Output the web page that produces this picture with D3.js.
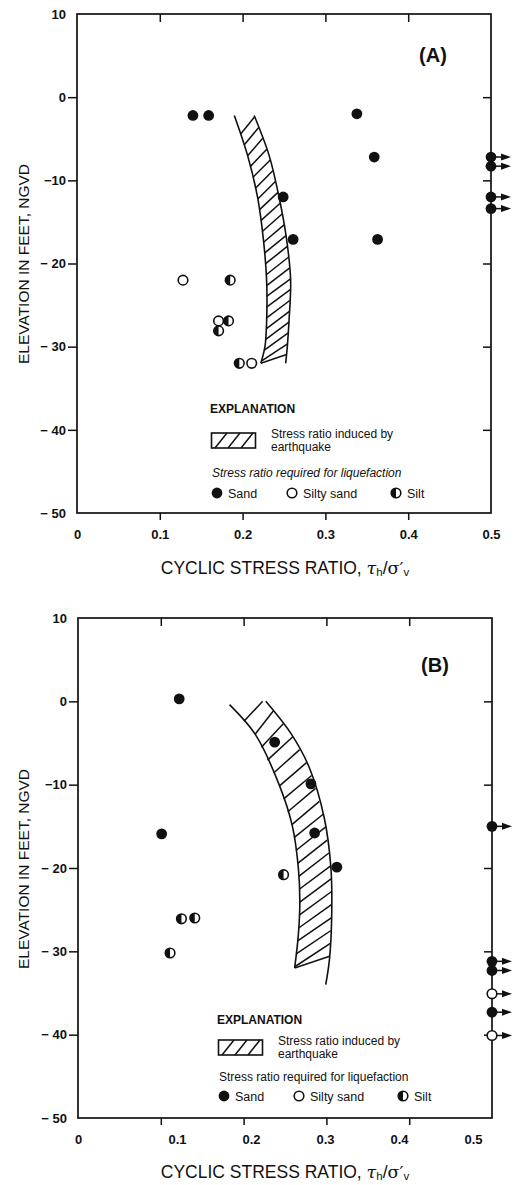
<!DOCTYPE html>
<html>
<head>
<meta charset="utf-8">
<script src="https://cdn.jsdelivr.net/npm/d3@7"></script>
<style>
	body { margin: 0; background: #fff; }
	svg { display: block; font-family: "Liberation Sans", Arial, Helvetica, sans-serif; }
</style>
</head>
<body>
<svg id="chart" width="517" height="1185"></svg>
<script>
// Panel A: cyclic stress ratio required for liquefaction [ratio, elevation ft]
const sandA = [[0.140, -2.2], [0.159, -2.2], [0.338, -2.0], [0.359, -7.2], [0.249, -12.0], [0.261, -17.1], [0.363, -17.1]];
const siltySandA = [[0.128, -22.0], [0.171, -26.9], [0.211, -32.0]];
const siltA = [[0.185, -22.0], [0.183, -26.9], [0.171, -28.1], [0.196, -32.0]];
// samples above the plotted range, sit on the right frame with an arrow
const offScaleA = [['sand', -7.2], ['sand', -8.3], ['sand', -12.0], ['sand', -13.4]];
// stress ratio induced by earthquake (band edges)
const bandALowElev = [-2.2, -7, -12, -17, -22, -27, -30, -32];
const bandALow = [0.190, 0.206, 0.218, 0.225, 0.229, 0.229, 0.227, 0.222];
const bandAHighElev = [-2.2, -7, -12, -17, -22, -27, -30, -32];
const bandAHigh = [0.214, 0.232, 0.244, 0.253, 0.258, 0.256, 0.254, 0.252];

// Panel B
const sandB = [[0.103, 0.3], [0.232, -4.9], [0.281, -9.9], [0.286, -15.8], [0.316, -19.9], [0.0845, -15.9]];
const siltySandB = [];
const siltB = [[0.244, -20.8], [0.106, -26.1], [0.124, -26.0], [0.093, -30.2]];
const offScaleB = [['sand', -15.0], ['sand', -31.2], ['sand', -32.3], ['siltySand', -35.1], ['sand', -37.3], ['siltySand', -40.1]];
const bandBLowElev = [-0.4, -4, -10, -15, -20, -24, -28, -32];
const bandBLow = [0.171, 0.206, 0.238, 0.256, 0.264, 0.266, 0.264, 0.259];
const bandBHighElev = [0, -4, -8, -14, -20, -26, -31, -34];
const bandBHigh = [0.220, 0.255, 0.279, 0.299, 0.308, 0.309, 0.306, 0.301];

// axes
const yTickValues = [10, 0, -10, -20, -30, -40, -50];
const yTickLabels = ['10', '0', '\u221210', '\u2212 20', '\u2212 30', '\u2212 40', '\u2212 50'];
const xTickValues = [0, 0.1, 0.2, 0.3, 0.4, 0.5];
const xTickLabels = ['0', '0.1', '0.2', '0.3', '0.4', '0.5'];

const ink = '#111';
var svg = d3.select('#chart');

function drawSymbol(g, kind, cx, cy) {
	var r = 4.8;
	if (kind == 'sand') {
		g.append('circle').attr('cx', cx).attr('cy', cy).attr('r', r + 0.6).attr('fill', ink);
		return;
	}
	g.append('circle').attr('cx', cx).attr('cy', cy).attr('r', r)
		.attr('fill', '#fff').attr('stroke', ink).attr('stroke-width', 1.6);
	if (kind == 'silt') {
		g.append('path')
			.attr('transform', 'translate(' + cx + ',' + cy + ')')
			.attr('d', d3.arc()({innerRadius: 0, outerRadius: r, startAngle: Math.PI, endAngle: 2 * Math.PI}))
			.attr('fill', ink);
	}
}

function drawPanel(cfg) {
	var g = svg.append('g');
	var y = d3.scaleLinear().domain([-50, 10]).range([cfg.bottom, cfg.top]);
	var x = d3.scaleLinear().domain(cfg.xDomain).range(cfg.xRange);
	var frameX = d3.scaleLinear().domain([0, 5]).range([cfg.left, cfg.right]);

	// left axis: labels, then tick marks
	g.append('g').attr('transform', 'translate(' + cfg.left + ',0)')
		.call(d3.axisLeft(y).tickValues(yTickValues).tickSize(0).tickPadding(11)
			.tickFormat((d, i) => yTickLabels[i]))
		.call(a => a.select('.domain').remove())
		.selectAll('text').attr('font-size', 13).attr('font-weight', 'bold').attr('fill', ink);
	g.append('g').attr('transform', 'translate(' + cfg.left + ',0)')
		.call(d3.axisLeft(y).tickValues([0, -10, -20, -30, -40]).tickSize(9).tickFormat(''))
		.call(a => a.select('.domain').remove())
		.selectAll('line').attr('stroke', ink).attr('stroke-width', 1.5);
	// right axis, ticks inside
	g.append('g').attr('transform', 'translate(' + cfg.right + ',0)')
		.call(d3.axisRight(y).tickValues([0, -10, -20, -30, -40]).tickSize(-8).tickFormat(''))
		.call(a => a.select('.domain').remove())
		.selectAll('line').attr('stroke', ink).attr('stroke-width', 1.5);
	// bottom axis: tick marks on the frame divisions, labels on the data scale
	g.append('g').attr('transform', 'translate(0,' + cfg.bottom + ')')
		.call(d3.axisBottom(frameX).tickValues([1, 2, 3, 4]).tickSize(7).tickFormat(''))
		.call(a => a.select('.domain').remove())
		.selectAll('line').attr('stroke', ink).attr('stroke-width', 1.5);
	g.append('g').attr('transform', 'translate(0,' + cfg.bottom + ')')
		.call(d3.axisBottom(x).tickValues(xTickValues).tickSize(0).tickPadding(17)
			.tickFormat((d, i) => xTickLabels[i]))
		.call(a => a.select('.domain').remove())
		.selectAll('text').attr('font-size', 13).attr('font-weight', 'bold').attr('fill', ink);
	// top axis, ticks inside
	g.append('g').attr('transform', 'translate(0,' + cfg.top + ')')
		.call(d3.axisTop(frameX).tickValues([1, 2, 3, 4]).tickSize(-8).tickFormat(''))
		.call(a => a.select('.domain').remove())
		.selectAll('line').attr('stroke', ink).attr('stroke-width', 1.5);

	// frame
	g.append('rect')
		.attr('x', cfg.left).attr('y', cfg.top)
		.attr('width', cfg.right - cfg.left).attr('height', cfg.bottom - cfg.top)
		.attr('fill', 'none').attr('stroke', ink).attr('stroke-width', 1.7);

	// induced stress band: two curved edges with "/" hatching between them
	var lowAt = d3.scaleLinear().domain(cfg.lowElev).range(cfg.low).clamp(true);
	var highAt = d3.scaleLinear().domain(cfg.highElev).range(cfg.high).clamp(true);
	var edge = d3.line().x(d => x(d[0])).y(d => y(d[1])).curve(d3.curveCatmullRom);
	g.append('path').attr('d', edge(cfg.low.map((v, i) => [v, cfg.lowElev[i]])))
		.attr('fill', 'none').attr('stroke', ink).attr('stroke-width', 1.6);
	g.append('path').attr('d', edge(cfg.high.map((v, i) => [v, cfg.highElev[i]])))
		.attr('fill', 'none').attr('stroke', ink).attr('stroke-width', 1.6);
	var lowTop = d3.max(cfg.lowElev), lowBottom = d3.min(cfg.lowElev);
	var highTop = d3.max(cfg.highElev);
	var clampLow = e => Math.min(Math.max(e, lowBottom), lowTop);
	var hatch = [];
	for (var e = lowBottom - cfg.rise * 0.5; e + cfg.rise * 0.5 <= highTop + 0.01; e += cfg.step)
		hatch.push(e);
	// near the top the hatch is cut short where it meets the right edge's top
	var topOf = d => Math.min(d + cfg.rise, highTop);
	var startOf = d => d + cfg.rise > highTop ? clampLow(d) : clampLow(d);
	g.selectAll(null).data(hatch).enter().append('line')
		.attr('x1', d => x(lowAt(startOf(d))))
		.attr('y1', d => y(startOf(d)))
		.attr('x2', d => d + cfg.rise > highTop
			? x(lowAt(startOf(d))) + (x(highAt(topOf(d))) - x(lowAt(startOf(d)))) * (topOf(d) - d) / cfg.rise
			: x(highAt(topOf(d))))
		.attr('y2', d => y(topOf(d)))
		.attr('stroke', ink).attr('stroke-width', 1.5);

	// observed points
	cfg.sand.forEach(d => drawSymbol(g, 'sand', x(d[0]), y(d[1])));
	cfg.siltySand.forEach(d => drawSymbol(g, 'siltySand', x(d[0]), y(d[1])));
	cfg.silt.forEach(d => drawSymbol(g, 'silt', x(d[0]), y(d[1])));
	cfg.offScale.forEach(d => {
		var cy = y(d[1]);
		g.append('line').attr('x1', cfg.right).attr('x2', cfg.right + 12).attr('y1', cy).attr('y2', cy)
			.attr('stroke', ink).attr('stroke-width', 1.5);
		g.append('path')
			.attr('d', 'M' + (cfg.right + 10) + ',' + (cy - 3.5) + 'L' + (cfg.right + 20) + ',' + cy + 'L' + (cfg.right + 10) + ',' + (cy + 3.5) + 'Z')
			.attr('fill', ink);
		drawSymbol(g, d[0], cfg.right, cy);
	});

	// panel label
	g.append('text').attr('x', cfg.labelX).attr('y', cfg.labelY)
		.attr('text-anchor', 'middle').attr('dominant-baseline', 'central')
		.attr('font-size', 20).attr('font-weight', 'bold').attr('fill', ink)
		.text(cfg.label);

	// axis titles
	g.append('text').attr('x', 285).attr('y', cfg.xTitleY)
		.attr('text-anchor', 'middle').attr('dominant-baseline', 'central')
		.attr('font-size', 17.5).attr('fill', ink)
		.call(t => {
			t.append('tspan').text('CYCLIC STRESS RATIO, ');
			t.append('tspan').attr('font-family', '"DejaVu Serif", serif').attr('font-style', 'italic').text('\u03c4');
			t.append('tspan').attr('font-size', 11.5).attr('dy', 4).text('h');
			t.append('tspan').attr('dy', -4).text('/');
			t.append('tspan').attr('font-family', '"DejaVu Serif", serif').text('\u03c3\u2032');
			t.append('tspan').attr('font-size', 11.5).attr('dy', 4).text('v');
		});
	g.append('text')
		.attr('transform', 'translate(23,' + cfg.yTitleY + ') rotate(-90)')
		.attr('text-anchor', 'middle').attr('dominant-baseline', 'central')
		.attr('font-size', 15.5).attr('fill', ink)
		.text('ELEVATION IN FEET, NGVD');

	// explanation
	var L = cfg.legend;
	g.append('text').attr('x', L.x).attr('y', L.exY).attr('dominant-baseline', 'central')
		.attr('font-size', 12).attr('font-weight', 'bold').attr('fill', ink).text('EXPLANATION');
	g.append('rect').attr('x', L.x + 1.5).attr('y', L.rectY).attr('width', 44).attr('height', 15)
		.attr('fill', 'none').attr('stroke', ink).attr('stroke-width', 1.6);
	g.selectAll(null).data([0, 1, 2]).enter().append('line')
		.attr('x1', i => L.x + 5 + i * 13).attr('y1', L.rectY + 15)
		.attr('x2', i => L.x + 17 + i * 13).attr('y2', L.rectY)
		.attr('stroke', ink).attr('stroke-width', 1.5);
	g.append('text').attr('x', L.x + 61).attr('y', L.rectY + 1).attr('dominant-baseline', 'central')
		.attr('font-size', 12).attr('fill', ink).text('Stress ratio induced by');
	g.append('text').attr('x', L.x + 61).attr('y', L.rectY + 14).attr('dominant-baseline', 'central')
		.attr('font-size', 12).attr('fill', ink).text('earthquake');
	g.append('text').attr('x', L.x + 2).attr('y', L.reqY).attr('dominant-baseline', 'central')
		.attr('font-size', 12).attr('font-style', L.italic ? 'italic' : 'normal').attr('fill', ink)
		.text('Stress ratio required for liquefaction');
	[['sand', 'Sand', 7], ['siltySand', 'Silty sand', 82], ['silt', 'Silt', 186]].forEach(k => {
		drawSymbol(g, k[0], L.x + k[2], L.rowY);
		g.append('text').attr('x', L.x + k[2] + 11).attr('y', L.rowY + 1).attr('dominant-baseline', 'central')
			.attr('font-size', 12.5).attr('fill', ink).text(k[1]);
	});
}

drawPanel({
	top: 14, bottom: 513, left: 77, right: 491,
	xDomain: [0, 0.5], xRange: [77, 491],
	sand: sandA, siltySand: siltySandA, silt: siltA, offScale: offScaleA,
	lowElev: bandALowElev, low: bandALow, highElev: bandAHighElev, high: bandAHigh,
	rise: 2.1, step: 1.3,
	label: '(A)', labelX: 433, labelY: 55,
	xTitleY: 568, yTitleY: 264,
	legend: {x: 210, exY: 409, rectY: 433, reqY: 473, rowY: 493, italic: true}
});

drawPanel({
	top: 618, bottom: 1118, left: 78, right: 492,
	xDomain: [0, 0.1, 0.5], xRange: [78, 177, 473],
	sand: sandB, siltySand: siltySandB, silt: siltB, offScale: offScaleB,
	lowElev: bandBLowElev, low: bandBLow, highElev: bandBHighElev, high: bandBHigh,
	rise: 2.8, step: 1.55,
	label: '(B)', labelX: 435, labelY: 665,
	xTitleY: 1172, yTitleY: 869,
	legend: {x: 217, exY: 1020, rectY: 1040, reqY: 1077, rowY: 1096, italic: false}
});
</script>
</body>
</html>
